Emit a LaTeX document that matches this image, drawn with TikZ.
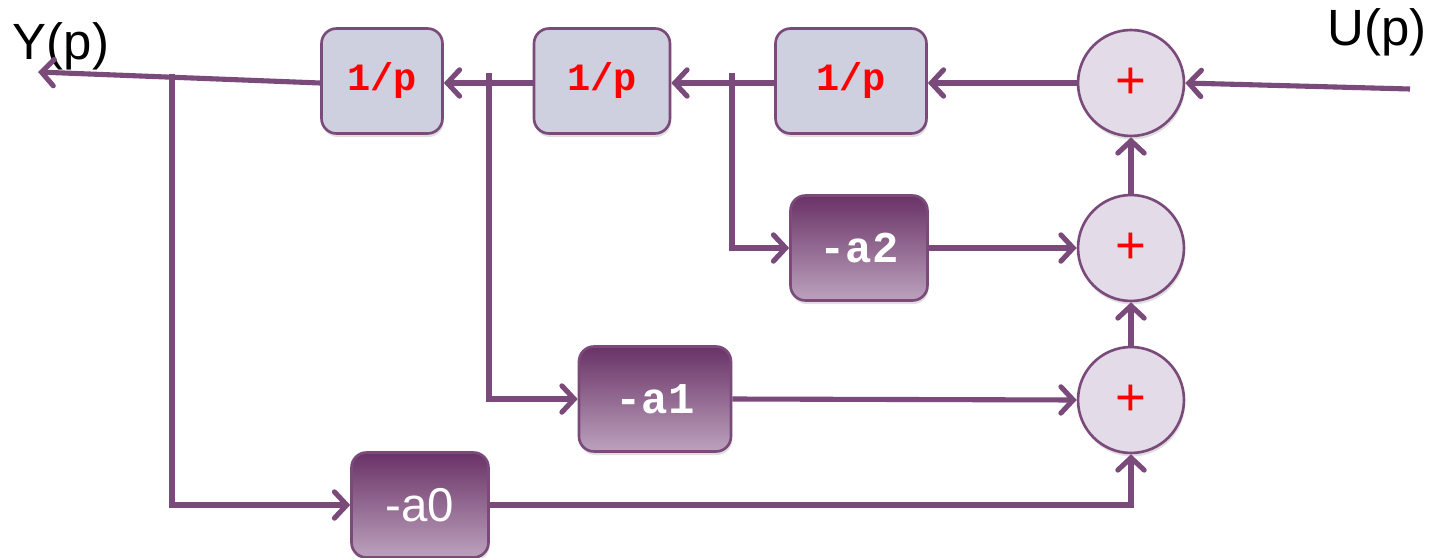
\documentclass[tikz,border=0pt]{standalone}
\usepackage{fontspec}
\setmainfont{Liberation Sans}
\newfontfamily\boxmono{Liberation Mono}
\usetikzlibrary{arrows.meta,shadows}
\definecolor{lc}{HTML}{7A4A7B}
\definecolor{lightfill}{HTML}{CED0DF}
\definecolor{sumfill}{HTML}{E3DBE7}
\definecolor{darktop}{HTML}{693266}
\definecolor{darkbot}{HTML}{BCA2BD}
\tikzset{
  conn/.style={draw=lc, line width=2.9pt},
  arr/.style={conn, -{Straight Barb[length=7pt,width=15pt,line cap=round]}},
  shad/.style={drop shadow={shadow xshift=0.6pt, shadow yshift=-2pt, opacity=0.25}},
  intbox/.style={shad, draw=lc, line width=1.5pt, rounded corners=0.3cm, fill=lightfill,
    minimum height=2.1cm, text=red, font=\boxmono\bfseries\fontsize{22}{22}\selectfont},
  gainbox/.style={shad, draw=lc, line width=1.5pt, rounded corners=0.3cm,
    top color=darktop, bottom color=darkbot, minimum height=2.1cm, text=white,
    font=\boxmono\bfseries\fontsize{25}{25}\selectfont},
  sumnode/.style={shad, circle, draw=lc, line width=1.5pt, fill=sumfill, minimum size=2.12cm,
    inner sep=0pt, text=red, font=\fontsize{30}{30}\selectfont},
  sig/.style={font=\fontsize{29}{29}\selectfont, inner sep=0pt}
}
\begin{document}
\begin{tikzpicture}[x=0.02cm,y=-0.02cm]
\useasboundingbox (0,0) rectangle (1441,558);
% labels
\node[sig] (ylab) at (61,46) {Y(p)};
\node[sig] (ulab) at (1377,32) {U(p)};
% integrator boxes
\node[intbox, minimum width=2.42cm] (i1) at (382,81) {1/p};
\node[intbox, minimum width=2.72cm] (i2) at (602,81) {1/p};
\node[intbox, minimum width=3.02cm] (i3) at (851,81) {1/p};
% summers
\node[sumnode] (s1) at (1131,83) {+};
\node[sumnode] (s2) at (1131,248) {+};
\node[sumnode] (s3) at (1131,400) {+};
% gain boxes
\node[gainbox, minimum width=2.74cm] (g2) at (859,248) {-a2};
\node[gainbox, minimum width=3.04cm] (g1) at (655,399) {-a1};
\node[gainbox, minimum width=2.74cm, font=\fontsize{27}{27}\selectfont] (g0) at (420,505) {-a0};
% free ends
\coordinate (yout) at (38,72);
\coordinate (uin) at (1410,89);
\coordinate (b0) at (172,74);
\coordinate (b1) at (489,73);
\coordinate (b2) at (732,73);
% main chain
\draw[arr] (uin) -- (s1.east);
\draw[arr] (s1.west) -- (i3.east |- s1.west);
\draw[arr] (i3.west |- s1.west) -- (i2.east |- s1.west);
\draw[arr] (i2.west |- s1.west) -- (i1.east |- s1.west);
\draw[arr] (i1.west |- s1.west) -- (yout);
% feedback branches
\draw[arr] (b2) |- (g2.west);
\draw[arr] (b1) |- (g1.west);
\draw[arr] (b0) |- (g0.west);
% gains to summers
\draw[arr] (g2.east) -- (s2.west);
\draw[arr] (g1.east) -- (s3.west);
\draw[arr] (g0.east) -| (s3.south);
\draw[arr] (s3.north) -- (s2.south);
\draw[arr] (s2.north) -- (s1.south);
\end{tikzpicture}
\end{document}
